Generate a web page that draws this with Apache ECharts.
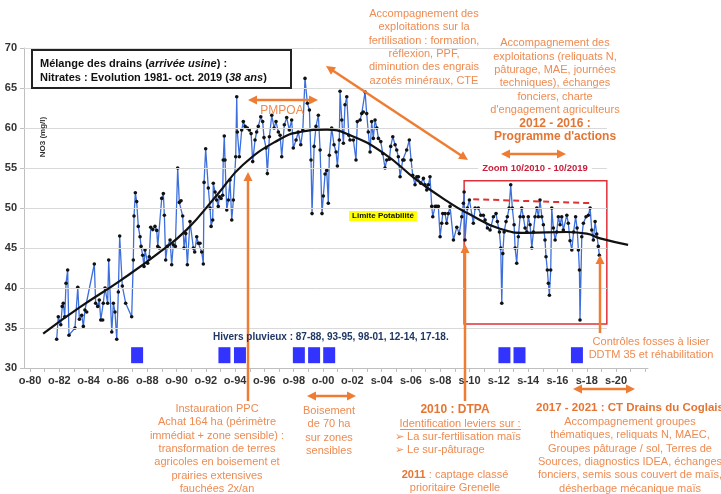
<!DOCTYPE html>
<html><head><meta charset="utf-8">
<script src="https://cdn.jsdelivr.net/npm/echarts@6/dist/echarts.min.js"></script>
<style>html,body{margin:0;padding:0;background:#fff}#c{width:721px;height:494px}</style>
</head><body><div id="c"></div>
<script>
// ---- data ----
const xTickPositions = [1980.75,1982.75,1984.75,1986.75,1988.75,1990.75,1992.75,1994.75,1996.75,1998.75,2000.75,2002.75,2004.75,2006.75,2008.75,2010.75,2012.75,2014.75,2016.75,2018.75,2020.75];
const xTickLabels = ['o-80','o-82','o-84','o-86','o-88','o-90','o-92','o-94','o-96','o-98','o-00','o-02','s-04','s-06','s-08','s-10','s-12','s-14','s-16','s-18','s-20'];
const yGridValues = [35,40,45,50,55,60,65,70];

const nitrates = [[1982.57,33.6],[1982.68,36.4],[1982.85,35.4],[1982.95,37.7],[1983.02,38.1],[1983.12,36.4],[1983.21,40.6],[1983.32,42.25],[1983.41,34.1],[1983.82,35.0],[1984.01,40.1],[1984.12,36.1],[1984.28,36.6],[1984.39,35.2],[1984.50,37.25],[1984.62,37.0],[1985.14,43.0],[1985.23,38.1],[1985.37,37.7],[1985.48,38.5],[1985.58,36.0],[1985.71,36.0],[1985.75,38.1],[1985.87,40.0],[1986.05,38.1],[1986.12,43.5],[1986.33,34.5],[1986.44,38.1],[1986.55,37.0],[1986.67,33.6],[1986.78,39.5],[1986.87,46.5],[1987.05,40.25],[1987.28,38.1],[1987.69,36.4],[1987.80,43.5],[1987.85,49.0],[1987.94,51.9],[1988.03,50.8],[1988.14,47.7],[1988.26,46.4],[1988.33,45.2],[1988.44,44.1],[1988.53,42.7],[1988.60,44.75],[1988.78,43.1],[1988.89,43.9],[1988.99,47.6],[1989.13,47.3],[1989.28,47.7],[1989.40,47.2],[1989.47,45.2],[1989.58,45.0],[1989.74,51.2],[1989.85,51.8],[1989.92,49.1],[1990.01,43.5],[1990.12,45.2],[1990.31,46.0],[1990.42,42.9],[1990.53,45.4],[1990.67,45.2],[1990.83,55.0],[1990.94,50.7],[1991.06,50.9],[1991.17,49.0],[1991.26,45.0],[1991.38,46.8],[1991.49,42.9],[1991.67,48.3],[1991.90,45.0],[1991.99,44.5],[1992.13,46.4],[1992.24,45.6],[1992.35,45.6],[1992.47,44.5],[1992.58,43.0],[1992.63,53.2],[1992.74,57.4],[1992.92,52.5],[1993.04,50.0],[1993.11,47.7],[1993.22,48.5],[1993.26,53.1],[1993.38,52.0],[1993.49,51.0],[1993.60,50.2],[1993.67,51.4],[1993.79,51.2],[1993.90,51.6],[1993.94,56.0],[1994.01,59.0],[1994.06,56.0],[1994.18,49.75],[1994.29,51.0],[1994.40,53.5],[1994.52,48.5],[1994.63,51.0],[1994.79,56.4],[1994.86,63.9],[1994.90,59.5],[1995.04,56.4],[1995.20,59.75],[1995.31,60.8],[1995.43,60.2],[1995.58,60.0],[1995.72,59.75],[1995.84,59.3],[1995.95,55.8],[1996.11,58.5],[1996.22,59.5],[1996.33,60.2],[1996.50,61.4],[1996.63,60.8],[1996.72,58.8],[1996.86,57.5],[1996.95,54.3],[1997.09,58.9],[1997.25,61.6],[1997.41,60.0],[1997.54,60.8],[1997.70,59.5],[1997.82,59.1],[1997.93,56.4],[1998.11,60.4],[1998.27,61.3],[1998.45,59.75],[1998.61,61.0],[1998.72,57.5],[1998.91,58.5],[1999.06,59.5],[1999.23,57.9],[1999.37,59.75],[1999.52,66.2],[1999.68,63.1],[1999.82,62.25],[1999.93,56.0],[2000.00,49.3],[2000.14,57.7],[2000.27,60.2],[2000.43,61.6],[2000.55,57.25],[2000.68,49.3],[2000.77,51.5],[2000.89,54.25],[2001.00,54.7],[2001.11,50.6],[2001.18,56.6],[2001.34,60.0],[2001.50,57.9],[2001.64,57.0],[2001.73,55.25],[2001.86,58.5],[2001.91,64.6],[2002.03,61.0],[2002.14,58.1],[2002.25,62.9],[2002.37,63.9],[2002.51,59.1],[2002.59,58.5],[2002.82,58.5],[2003.00,56.0],[2003.09,60.8],[2003.28,61.0],[2003.39,61.8],[2003.50,62.0],[2003.62,64.5],[2003.73,61.8],[2003.84,59.5],[2003.96,57.0],[2004.07,60.8],[2004.18,58.7],[2004.30,61.0],[2004.42,60.0],[2004.53,58.7],[2004.69,58.3],[2004.83,56.8],[2004.98,55.0],[2005.10,56.0],[2005.28,56.1],[2005.37,57.7],[2005.51,58.9],[2005.67,57.9],[2005.78,57.25],[2005.89,56.4],[2006.01,53.9],[2006.19,56.0],[2006.28,56.0],[2006.46,57.25],[2006.64,58.5],[2006.76,56.0],[2006.87,54.1],[2007.03,52.9],[2007.15,53.9],[2007.26,53.9],[2007.42,53.1],[2007.60,53.7],[2007.71,52.9],[2007.83,52.25],[2007.94,52.9],[2008.05,53.9],[2008.17,50.2],[2008.24,48.9],[2008.40,50.2],[2008.51,50.2],[2008.62,50.2],[2008.74,46.4],[2008.85,48.1],[2008.92,49.3],[2009.08,49.3],[2009.19,48.1],[2009.30,49.3],[2009.42,50.2],[2009.65,46.0],[2009.88,47.6],[2010.05,46.8],[2010.22,48.9],[2010.33,50.6],[2010.38,52.0],[2010.44,46.0],[2010.60,50.0],[2010.74,51.0],[2011.01,48.1],[2011.13,50.0],[2011.35,50.0],[2011.52,49.1],[2011.69,49.1],[2011.81,48.5],[2011.97,47.5],[2012.15,47.25],[2012.38,48.9],[2012.56,49.3],[2012.65,48.3],[2012.79,47.0],[2012.88,45.0],[2012.95,38.1],[2013.02,44.3],[2013.11,47.0],[2013.24,48.3],[2013.33,48.9],[2013.45,50.0],[2013.56,52.9],[2013.67,50.0],[2013.79,47.9],[2013.86,45.0],[2013.97,43.1],[2014.08,46.4],[2014.20,48.9],[2014.31,50.0],[2014.42,48.9],[2014.54,47.5],[2014.66,47.0],[2014.76,48.9],[2014.88,47.9],[2015.00,45.0],[2015.11,47.0],[2015.22,48.9],[2015.34,50.0],[2015.45,48.9],[2015.56,51.0],[2015.68,48.9],[2015.79,47.9],[2015.90,46.0],[2015.97,43.9],[2016.06,42.25],[2016.13,40.6],[2016.20,39.1],[2016.29,42.25],[2016.36,50.0],[2016.47,47.5],[2016.59,46.0],[2016.70,47.0],[2016.81,48.9],[2016.93,47.9],[2017.04,48.9],[2017.15,47.25],[2017.39,49.1],[2017.49,48.1],[2017.61,45.9],[2017.73,44.75],[2017.85,47.0],[2017.99,48.9],[2018.09,47.5],[2018.18,44.75],[2018.25,42.25],[2018.29,36.0],[2018.41,46.4],[2018.52,48.1],[2018.70,48.9],[2018.86,49.1],[2018.98,50.0],[2019.09,47.25],[2019.20,46.0],[2019.32,48.3],[2019.43,46.75],[2019.54,45.2],[2019.61,44.1]];

const trend = [[1981.65,34.3],[1984.16,37.6],[1986.89,40.9],[1989.4,44.2],[1991.45,47.3],[1993.5,51.6],[1995.29,55.4],[1997.8,58.6],[1999.18,59.5],[2001.0,59.8],[2002.6,59.1],[2004.85,56.9],[2007.15,53.5],[2009.42,50.6],[2010.56,49.4],[2012.83,47.4],[2014.65,46.9],[2017.38,47.0],[2018.75,46.8],[2019.66,46.2],[2021.57,45.4]];

const winterYears = [1988.06,1994.02,1995.08,1999.10,2000.14,2001.17,2013.13,2014.16,2018.08];
const winterMarkerLevel = 31.6;
const redDashed = [[2011.0,51.1],[2019.1,50.6]];
const zoomBox = {x0:2010.38, x1:2020.12, yTop:53.4, yBottom:35.5};
const gridEndYear = 2020.12;
const xMin = 1980.34, xMax = 2022.93;

// ---- styling ----
const ORANGE = '#ee7d33';
const OTXT = '#ee8b52';
const FONT = "'Liberation Sans', Arial, sans-serif";

const yearTicks = [];
for (let y = 1980.75; y <= 2022.8; y += 1) yearTicks.push(+y.toFixed(2));

function arrow(x1,y1,x2,y2,both){
  const L=9, W=4.5;
  const a = Math.atan2(y2-y1,x2-x1);
  const cx = Math.cos(a), sy = Math.sin(a);
  const sx1 = both ? x1 + cx*L*0.8 : x1, sy1 = both ? y1 + sy*L*0.8 : y1;
  const sx2 = x2 - cx*L*0.8, sy2 = y2 - sy*L*0.8;
  const head = (tx,ty,dir) => {
    const bx = tx - dir*L*cx, by = ty - dir*L*sy;
    return {type:'polygon', z:60, silent:true, shape:{points:[[tx,ty],[bx+W*sy,by-W*cx],[bx-W*sy,by+W*cx]]}, style:{fill:ORANGE}};
  };
  const els = [{type:'line', z:60, silent:true, shape:{x1:sx1,y1:sy1,x2:sx2,y2:sy2}, style:{stroke:ORANGE,lineWidth:2.5}}, head(x2,y2,1)];
  if (both) els.push(head(x1,y1,-1));
  return els;
}
function txt(x,y,text,opt){
  return Object.assign({type:'text', z:70, silent:true, x:x, y:y,
    style:Object.assign({text:text, fill:OTXT, font:'11px '+FONT, textAlign:'center', textVerticalAlign:'top', lineHeight:13.3}, opt||{})});
}

const graphics = [].concat(
  // title box
  [{type:'rect', z:65, silent:true, shape:{x:32,y:50,width:259,height:38}, style:{fill:'#fff', stroke:'#222', lineWidth:2}},
   {type:'text', z:70, silent:true, x:40, y:57, style:{
     text:'{b|Mélange des drains (}{i|arrivée usine}{b|) :}\n{b|Nitrates : Evolution 1981- oct. 2019 (}{i|38 ans}{b|)}',
     textAlign:'left', textVerticalAlign:'top',
     rich:{b:{font:'bold 11px '+FONT, fill:'#111', lineHeight:14}, i:{font:'italic bold 11px '+FONT, fill:'#111', lineHeight:14}}}}],
  // arrows
  arrow(248,100,318,100,true),
  arrow(326,66,468,160,true),
  arrow(501,154,566,154,true),
  arrow(307,396,356,396,true),
  arrow(573,389,635,389,true),
  arrow(248,401,248,172,false),
  arrow(465,401,465,244,false),
  arrow(600,333,600,255,false),
  // texts
  [txt(424,7.5,'Accompagnement des\nexploitations sur la\nfertilisation : formation,\nréflexion, PPF,\ndiminution des engrais\nazotés minéraux, CTE'),
   {type:'text', z:70, silent:true, x:555, y:36.5, style:{
     text:'{n|Accompagnement des}\n{n|exploitations (reliquats N,}\n{n|pâturage, MAE, journées}\n{n|techniques), échanges}\n{n|fonciers, charte}\n{n|d\'engagement agriculteurs}\n{b|2012 - 2016 :}\n{b|Programme d\'actions}',
     textAlign:'center', textVerticalAlign:'top',
     rich:{n:{font:'11px '+FONT, fill:OTXT, lineHeight:13.4}, b:{font:'bold 12px '+FONT, fill:'#e57533', lineHeight:13.4}}}},
   txt(282,104,'PMPOA',{font:'12px '+FONT}),
   txt(217,402.5,'Instauration PPC\nAchat 164 ha (périmètre\nimmédiat + zone sensible) :\ntransformation de terres\nagricoles en boisement et\nprairies extensives\nfauchées 2x/an'),
   txt(329,404.5,'Boisement\nde 70 ha\nsur zones\nsensibles'),
   txt(455,403,'2010 : DTPA',{font:'bold 12px '+FONT, fill:'#e57533'}),
   txt(460,417,'Identification leviers sur :'),
   {type:'line', z:70, silent:true, shape:{x1:400,y1:429.5,x2:521,y2:429.5}, style:{stroke:OTXT,lineWidth:1}},
   txt(395,430,'➢ La sur-fertilisation maïs\n➢ Le sur-pâturage',{textAlign:'left'}),
   {type:'text', z:70, silent:true, x:455, y:468.5, style:{
     text:'{b|2011} {n|: captage classé}\n{n|prioritaire Grenelle}', textAlign:'center', textVerticalAlign:'top',
     rich:{n:{font:'11px '+FONT, fill:OTXT, lineHeight:13.3}, b:{font:'bold 11px '+FONT, fill:'#e57533', lineHeight:13.3}}}},
   txt(630,401.5,'2017 - 2021 : CT Drains du Coglais',{font:'bold 11.5px '+FONT, fill:'#e57533'}),
   txt(630,415.5,'Accompagnement groupes\nthématiques, reliquats N, MAEC,\nGroupes pâturage / sol, Terres de\nSources, diagnostics IDEA, échanges\nfonciers, semis sous couvert de maïs,\ndésherbage mécanique maïs'),
   txt(651,335.5,'Contrôles fosses à lisier\nDDTM 35 et réhabilitation'),
   {type:'text', z:70, silent:true, x:213, y:337, style:{text:'Hivers pluvieux : 87-88, 93-95, 98-01, 12-14, 17-18.', font:'bold 10px '+FONT, fill:'#1f3864', textAlign:'left', textVerticalAlign:'middle'}},
   {type:'text', z:70, silent:true, x:535, y:168, style:{text:'Zoom 10/2010 - 10/2019', font:'bold 9.5px '+FONT, fill:'#c8203c', textAlign:'center', textVerticalAlign:'middle', backgroundColor:'#fff', padding:[1,4]}},
   {type:'text', z:70, silent:true, x:383, y:216, style:{text:'Limite Potabilité', font:'bold 8px '+FONT, fill:'#111', textAlign:'center', textVerticalAlign:'middle', backgroundColor:'#ffff00', padding:[1,3]}},
   {type:'text', z:70, silent:true, x:43, y:137, rotation:Math.PI/2, style:{text:'NO3 (mg/l)', font:'bold 8px '+FONT, fill:'#333', textAlign:'center', textVerticalAlign:'middle'}}
  ]
);

const chart = echarts.init(document.getElementById('c'), null, {renderer:'canvas'});
chart.setOption({
  animation:false,
  backgroundColor:'#fff',
  grid:{left:24, right:73, top:48, bottom:126},
  xAxis:{type:'value', min:xMin, max:xMax,
    axisLine:{show:true, lineStyle:{color:'#bfbfbf', width:1}},
    axisTick:{show:true, customValues:yearTicks, length:4, lineStyle:{color:'#bfbfbf'}},
    axisLabel:{customValues:xTickPositions, margin:7, color:'#333', fontWeight:'bold', fontSize:11,
      fontFamily:"'Liberation Sans Narrow', 'Liberation Sans', Arial, sans-serif",
      formatter:function(v){const i = xTickPositions.findIndex(p=>Math.abs(p-v)<0.01); return i>=0 ? xTickLabels[i] : '';}},
    splitLine:{show:false}},
  yAxis:{type:'value', min:30, max:70, interval:5,
    axisLine:{show:true, lineStyle:{color:'#bfbfbf', width:1}},
    axisTick:{show:true, length:4, lineStyle:{color:'#bfbfbf'}},
    axisLabel:{margin:7, color:'#333', fontWeight:'bold', fontSize:11, fontFamily:FONT},
    splitLine:{show:false}},
  series:[
    {type:'line', name:'grid', data:[], silent:true, z:1,
      markLine:{silent:true, symbol:['none','none'], label:{show:false}, emphasis:{disabled:true},
        lineStyle:{color:'#d9d9d9', width:1, type:'solid'},
        data: yGridValues.map(v => [{coord:[xMin+0.01, v]}, {coord:[gridEndYear, v]}])},
      markArea:{silent:true, emphasis:{disabled:true}, label:{show:false},
        itemStyle:{color:'rgba(0,0,0,0)', borderColor:'#e0303a', borderWidth:1.5},
        data:[[{coord:[zoomBox.x0, zoomBox.yTop]}, {coord:[zoomBox.x1, zoomBox.yBottom]}]]}},
    {type:'scatter', name:'hivers', z:3, silent:true, symbol:'rect', symbolSize:[12,16],
      itemStyle:{color:'#0000ff'}, data: winterYears.map(y => [y, winterMarkerLevel])},
    {type:'line', name:'NO3', z:4, data:nitrates, silent:true,
      lineStyle:{color:'#3d6fdc', width:1.3}, symbol:'circle', symbolSize:3.6, showSymbol:true,
      itemStyle:{color:'#111'}},
    {type:'line', name:'tendance', z:5, data:trend, smooth:0.5, silent:true, showSymbol:false,
      lineStyle:{color:'#111', width:2.2}},
    {type:'line', name:'plafond', z:5, data:redDashed, silent:true, showSymbol:false,
      lineStyle:{color:'#e03030', width:2, type:[6,4]}}
  ],
  graphic:graphics
});
</script></body></html>
